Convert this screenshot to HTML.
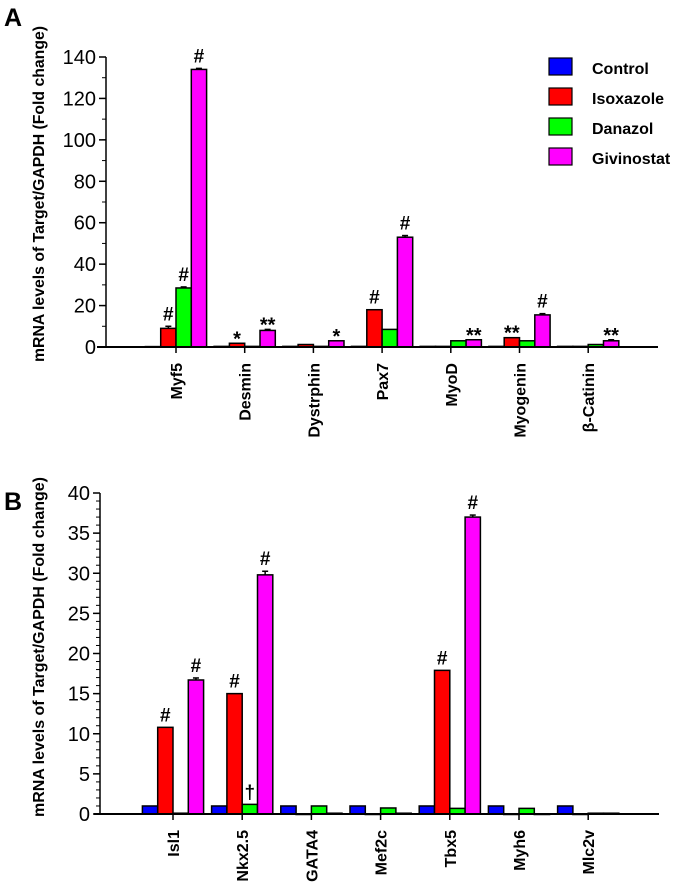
<!DOCTYPE html>
<html><head><meta charset="utf-8"><style>
body{margin:0;background:#fff;}
svg{display:block;font-family:"Liberation Sans",Arial,sans-serif;}
</style></head><body>
<svg id="fig" width="685" height="885" viewBox="0 0 685 885">
<text x="4" y="26" font-size="25" font-weight="bold">A</text>
<text x="4" y="510" font-size="25" font-weight="bold">B</text>
<g>
 <g><rect x="549" y="58" width="23" height="17" fill="#0000ff" stroke="#000" stroke-width="1.2"/><text x="592" y="74" font-size="16" font-weight="bold">Control</text></g>
 <g><rect x="549" y="88" width="23" height="17" fill="#ff0000" stroke="#000" stroke-width="1.2"/><text x="592" y="104" font-size="16" font-weight="bold">Isoxazole</text></g>
 <g><rect x="549" y="118" width="23" height="17" fill="#00ff00" stroke="#000" stroke-width="1.2"/><text x="592" y="134" font-size="16" font-weight="bold">Danazol</text></g>
 <g><rect x="549" y="148" width="23" height="17" fill="#ff00ff" stroke="#000" stroke-width="1.2"/><text x="592" y="164" font-size="16" font-weight="bold">Givinostat</text></g>
</g>
</svg>
<script>
const colors=["#0000ff","#ff0000","#00ff00","#ff00ff"];
const catsA=["Myf5","Desmin","Dystrphin","Pax7","MyoD","Myogenin","β-Catinin"];
const controlA=[0.2,0.3,0.3,0.3,0.3,0.3,0.3];
const isoxA=[9,1.8,1.2,18,0.3,4.5,0.3];
const danA=[28.5,0.3,0.3,8.5,3,3,1.2];
const givA=[134,8,3,53,3.5,15.5,3];
const annA=[["","#","#","#"],["","*","","**"],["","","","*"],["","#","","#"],["","","","**"],["","**","","#"],["","","","**"]];
const ticksA=[0,20,40,60,80,100,120,140];
const catsB=["Isl1","Nkx2.5","GATA4","Mef2c","Tbx5","Myh6","Mlc2v"];
const controlB=[1,1,1,1,1,1,1];
const isoxB=[10.8,15,0,0,17.9,0,0];
const danB=[0.1,1.2,1,0.75,0.7,0.7,0.1];
const givB=[16.7,29.8,0.1,0.1,37,0,0.1];
const annB=[["","#","","#"],["","#","†","#"],["","","",""],["","","",""],["","#","","#"],["","","",""],["","","",""]];
const ticksB=[0,5,10,15,20,25,30,35,40];
const errA=[[0,1,0.5,0.5],[0,0,0,0.5],[0,0,0,0],[0,0,0,0.8],[0,0,0,0],[0,0,0,0.6],[0,0,0,0.5]];
const errB=[[0,0,0,0.25],[0,0,0,0.45],[0,0,0,0],[0,0,0,0],[0,0,0,0.25],[0,0,0,0],[0,0,0,0]];

const NS="http://www.w3.org/2000/svg";
const svg=document.getElementById('fig');
function mk(tag,attrs,parent){const e=document.createElementNS(NS,tag);for(const k in attrs)e.setAttribute(k,attrs[k]);(parent||svg).appendChild(e);return e;}

function chart(o){
  const g=mk('g',{});
  
  
  const y=v=>o.y0-(v/o.max)*(o.y0-o.ytop);
  const x=i=>o.x0+i*o.step;
  const ya=mk('line',{x1:o.ax,y1:o.y0,x2:o.ax,y2:o.ytop,stroke:'#000','stroke-width':1.5},g);
  
  
  for(let v=0;v<=o.max+1e-9;v+=o.minor){mk('line',{x1:o.ax-4,x2:o.ax,y1:y(v),y2:y(v),stroke:'#000','stroke-width':1},g);}
  o.ticks.forEach(t=>{
    mk('line',{x1:o.ax-7,x2:o.ax,y1:y(t),y2:y(t),stroke:'#000','stroke-width':1.5},g);
    const tl=mk('text',{x:o.ax-10,y:y(t)+7,'text-anchor':'end','font-size':20},g);
    tl.textContent=t;
    
    
  });
  const yt=mk('text',{x:0,y:0,'text-anchor':'middle','font-size':16,'font-weight':'bold',textLength:o.titleLen,lengthAdjust:'spacingAndGlyphs',transform:`translate(${o.titleX},${o.titleY}) rotate(-90)`},g);
  yt.textContent='mRNA levels of Target/GAPDH (Fold change)';
  
  
  const series=[o.c,o.i,o.d,o.g];
  const bw=15.3;
  o.cats.forEach((c,ci)=>{
    const cx=x(ci);
    for(let s=0;s<4;s++){
      const v=series[s][ci];
      const bx=cx-2*bw+s*bw;
      const top=y(v);
      if(o.err[ci][s]>0){mk('line',{x1:bx+bw/2,x2:bx+bw/2,y1:top,y2:y(v+o.err[ci][s]),stroke:'#000','stroke-width':1.5},g);mk('line',{x1:bx+bw/2-3,x2:bx+bw/2+3,y1:y(v+o.err[ci][s]),y2:y(v+o.err[ci][s]),stroke:'#000','stroke-width':1.5},g);}
      const r=mk('rect',{x:bx,y:top,width:bw,height:Math.max(o.y0-top,0.5),fill:colors[s],stroke:'#000','stroke-width':1.5},g);
      
      
      const a=o.ann[ci][s];
      if(a){
        const at=mk('text',{x:bx+bw/2,y:y(v+o.err[ci][s])-(a.indexOf('*')>=0?-2:6),'text-anchor':'middle','font-size':a.indexOf('*')>=0?20:19,'font-weight':'bold'},g);
        at.textContent=a;
        
        
      }
    }
    mk('line',{x1:cx,x2:cx,y1:o.y0,y2:o.y0+6,stroke:'#000','stroke-width':1.5},g);
    const cl=mk('text',{x:0,y:0,'text-anchor':'end','font-size':16,'font-weight':'bold',transform:`translate(${cx+6},${o.y0+16}) rotate(-90)`},g);
    cl.textContent=c;
    
    
  });
  const xa=mk('line',{x1:o.xs,y1:o.y0,x2:o.xe,y2:o.y0,stroke:'#000','stroke-width':2},g);
  
  
}
chart({name:'chart-a',cats:catsA,c:controlA,i:isoxA,d:danA,g:givA,ann:annA,err:errA,ticks:ticksA,max:140,minor:10,y0:347,ytop:57,ax:106,x0:176,step:68.7,xs:97,xe:658,titleX:44,titleY:194,titleLen:336});
chart({name:'chart-b',cats:catsB,c:controlB,i:isoxB,d:danB,g:givB,ann:annB,err:errB,ticks:ticksB,max:40,minor:1,y0:814,ytop:493,ax:100,x0:173,step:69.2,xs:94,xe:659,titleX:44,titleY:647,titleLen:340});
</script>
</body></html>
